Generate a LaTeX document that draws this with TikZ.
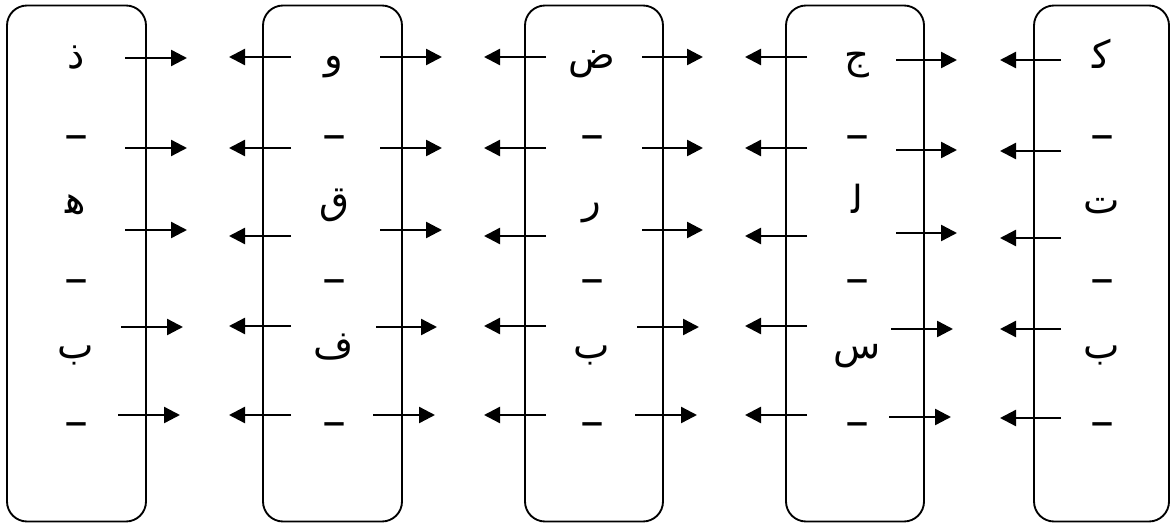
\documentclass[tikz,border=0pt]{standalone}
\usepackage{fontspec}
\newfontfamily\arabicfont[Script=Arabic]{DejaVu Sans}
\newfontfamily\dashfont{DejaVu Sans}
\TeXXeTstate=1
\usetikzlibrary{arrows.meta}
\tikzset{
  column/.style={draw, line width=1.4pt, rounded corners=15pt, inner sep=0pt},
  glyph/.style={anchor=base, inner sep=0pt, font=\arabicfont\fontsize{29pt}{34pt}\selectfont},
  sepmark/.style={anchor=base, inner sep=0pt, font=\dashfont\fontsize{36pt}{40pt}\selectfont},
  arr/.style={line width=1.8pt, -{Triangle[length=12pt,width=12pt]}}
}
\newcommand{\ar}[1]{\beginR #1\endR}
\newcommand{\ini}[1]{\beginR #1^^^^200d\endR}
\begin{document}
\begin{tikzpicture}[x=0.75pt,y=-0.75pt]
\useasboundingbox (0,0) rectangle (1170,524);

% the five columns
\node[column, minimum width=139*0.75pt, minimum height=516*0.75pt] (c1) at (76.5,263.5) {};
\node[column, minimum width=139*0.75pt, minimum height=516*0.75pt] (c2) at (332.5,263.5) {};
\node[column, minimum width=138*0.75pt, minimum height=516*0.75pt] (c3) at (594,263.5) {};
\node[column, minimum width=138*0.75pt, minimum height=516*0.75pt] (c4) at (855,263.5) {};
\node[column, minimum width=135*0.75pt, minimum height=516*0.75pt] (c5) at (1101.5,263.5) {};

% letters of each column, separated by dashes
\foreach \n/\x/\a/\b/\c in {1/76/\ar{ذ}/\ini{ه}/\ar{ب},
                           2/334/\ar{و}/\ar{ق}/\ar{ف},
                           3/592/\ar{ض}/\ar{ر}/\ar{ب},
                           4/857/\ar{ج}/\ini{ل}/\ar{س},
                           5/1102/\ini{ك}/\ar{ت}/\ar{ب}} {
  \node[glyph]   (l\n a) at (\x,69) {\a};
  \node[sepmark] (d\n a) at (\x,151) {–};
  \node[glyph]   (l\n b) at (\x,213) {\b};
  \node[sepmark] (d\n b) at (\x,294) {–};
  \node[glyph]   (l\n c) at (\x,358) {\c};
  \node[sepmark] (d\n c) at (\x,437) {–};
}

% arrows leaving each column to the right
\foreach \g/\s/\t/\y in {
  1/125/187/58, 1/125/187/148, 1/125/187/230, 1/121/183/327, 1/118/180/415,
  2/380/442/57, 2/380/442/148, 2/380/442/230, 2/376/437/327, 2/373/435/415,
  3/642/703/57, 3/642/703/148, 3/642/703/230, 3/637/699/327, 3/635/697/415,
  4/896/957/60, 4/896/957/150, 4/896/957/233, 4/891/953/329, 4/889/951/417} {
  \coordinate (rs) at (\s,\y);
  \coordinate (rt) at (\t,\y);
  \draw[arr] (rs) -- (rt);
}

% arrows leaving each column to the left
\foreach \g/\s/\t/\y in {
  2/291/229/57, 2/291/229/148, 2/291/229/236, 2/291/229/326, 2/291/229/415,
  3/546/484/57, 3/546/484/148, 3/546/484/236, 3/546/484/326, 3/546/484/415,
  4/807/745/57, 4/807/745/148, 4/807/745/236, 4/807/745/326, 4/807/745/415,
  5/1061/1000/60, 5/1061/1000/151, 5/1061/1000/238, 5/1061/1000/329, 5/1061/1000/418} {
  \coordinate (ls) at (\s,\y);
  \coordinate (lt) at (\t,\y);
  \draw[arr] (ls) -- (lt);
}
\end{tikzpicture}
\end{document}
